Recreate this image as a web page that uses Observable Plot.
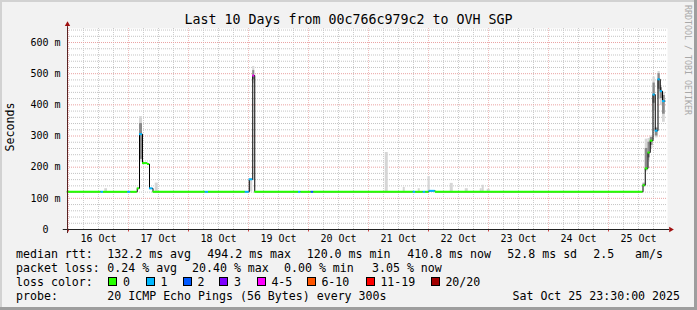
<!DOCTYPE html>
<html>
<head>
<meta charset="utf-8">
<script src="https://cdn.jsdelivr.net/npm/d3@7"></script>
<script src="https://cdn.jsdelivr.net/npm/@observablehq/plot@0.6"></script>
<style>
html, body { margin: 0; padding: 0; background: #f2f2f2; }
#chart { position: relative; width: 697px; height: 310px; background: #f2f2f2; overflow: hidden;
  font-family: "DejaVu Sans Mono", monospace; color: #000; }
.abs { position: absolute; white-space: pre; line-height: 1; }
.sw { position: absolute; width: 9px; height: 9px; box-sizing: border-box; border: 1px solid #000; }
</style>
</head>
<body>
<div id="chart"></div>
<script>
// ---------- texts ----------
const titleText = "Last 10 Days from 00c766c979c2 to OVH SGP";
const yLabelText = "Seconds";
const creditText = "RRDTOOL / TOBI OETIKER";

// ---------- axes (hours since 16 Oct 00:00) ----------
const dayTicks = [12, 36, 60, 84, 108, 132, 156, 180, 204, 228];
const dayLabels = ["16 Oct", "17 Oct", "18 Oct", "19 Oct", "20 Oct", "21 Oct", "22 Oct", "23 Oct", "24 Oct", "25 Oct"];
const midnights = [0, 24, 48, 72, 96, 120, 144, 168, 192, 216];
const yTicks = [0, 100, 200, 300, 400, 500, 600];
const yTickLabels = ["0\u00a0\u00a0", "100 m", "200 m", "300 m", "400 m", "500 m", "600 m"];

// ---------- loss colour buckets ----------
const lossBuckets = ["0", "1", "2", "3", "4-5", "6-10", "11-19", "20/20"];
const lossColors = ["#26ff00", "#00b8ff", "#0059ff", "#7e00ff", "#ff00ff", "#ff5500", "#ff0000", "#a10000"];

// ---------- median rtt (ms), step segments: start hour, value, loss bucket ----------
const medT = [-0.5, 13.0, 14.0, 23.7, 24.9, 27.5, 28.4, 29.6, 31.6, 32.4, 33.8, 54.7, 56.0, 70.7, 72.3, 73.7, 74.5,
  92.0, 93.0, 97.1, 98.1, 137.9, 138.9, 141.9, 142.9, 144.2, 146.7,
  229.8, 230.7, 231.8, 232.7, 233.8, 234.7, 235.8, 236.7, 237.6, 238.7];
const medV = [121, 121, 121, 121, 121, 132, 306, 213, 210, 132, 121, 121, 121, 121, 161, 494, 121,
  121, 121, 121, 121, 121, 121, 121, 121, 124, 121,
  142, 196, 247, 285, 433, 317, 482, 444, 412];
const medLoss = ["0", "1", "0", "1", "0", "0", "1", "0", "0", "1", "0", "1", "0", "1", "1", "4-5", "0",
  "1", "0", "2", "0", "1", "0", "1", "0", "1", "0",
  "0", "0", "0", "0", "1", "1", "1", "1", "1"];

// ---------- smoke (ping spread, ms) ----------
const smokeT0 = [14.5, 28.4, 29.6, 34.7, 72.3, 73.7, 126.7, 133.9, 139.9, 143.8, 152.7, 158.7, 164.7, 165.5, 167.5,
  229.8, 230.7, 231.8, 232.7, 233.8, 234.7, 235.8, 236.7, 237.6];
const smokeT1 = [15.6, 29.6, 30.4, 35.9, 73.7, 74.5, 127.9, 134.7, 140.7, 144.7, 153.9, 159.9, 165.5, 166.3, 168.7,
  230.7, 231.8, 232.7, 233.8, 234.7, 235.8, 236.7, 237.6, 238.7];
const smokeMin = [121, 216, 210, 121, 121, 468, 121, 121, 121, 121, 121, 121, 121, 121, 121,
  135, 185, 221, 260, 380, 294, 420, 398, 344];
const smokeMax = [131, 362, 222, 149, 161, 523, 247, 135, 131, 170, 148, 131, 131, 142, 129,
  150, 290, 292, 300, 489, 328, 507, 462, 440];
const smokeInLo = [121, 225, 210, 121, 121, 480, 121, 121, 121, 121, 121, 121, 121, 121, 121,
  138, 190, 230, 270, 405, 300, 450, 420, 370];
const smokeInHi = [121, 340, 216, 121, 121, 510, 121, 121, 121, 121, 121, 121, 121, 121, 121,
  146, 260, 280, 295, 470, 325, 500, 455, 430];

// ---------- legend texts ----------
const rowLabels = ["median rtt:", "packet loss:", "loss color:", "probe:"];
const rttStats = ["132.2 ms avg", "494.2 ms max", "120.0 ms min", "410.8 ms now", "52.8 ms sd", "2.5", "am/s"];
const lossStats = ["0.24 % avg", "20.40 % max", "0.00 % min", "3.05 % now"];
const probeText = "20 ICMP Echo Pings (56 Bytes) every 300s";
const dateText = "Sat Oct 25 23:30:00 2025";

// ---------- layout (pixels) ----------
const rowTops = [248.7, 263.0, 277.0, 291.1];
const rttX = [107.3, 207.3, 306.7, 407.3, 507.3, 593.3, 635];
const lossX = [107.3, 192, 284, 372];
const swatchX = [108.3, 145.7, 182.7, 219.3, 256.7, 306.7, 365.7, 430.7];

// ---------- build data tables ----------
const segs = medV.map((v, i) => ({t0: medT[i], t1: medT[i + 1], v, loss: medLoss[i]}));
const pts = medT.map((t, i) => ({t, v: medV[Math.min(i, medV.length - 1)]}));
const smoke = smokeT0.map((t, i) => ({t0: t, t1: smokeT1[i], lo: smokeMin[i], hi: smokeMax[i], qlo: smokeInLo[i], qhi: smokeInHi[i]}));
const minorY = d3.range(20, 645, 20).filter(v => v % 100 !== 0);
const majorY = yTicks.filter(v => v > 0);
const minorX = d3.range(6, 240, 6).filter(h => h % 24 !== 0);

const plot = Plot.plot({
  width: 697, height: 245,
  marginLeft: 67, marginRight: 30, marginTop: 28, marginBottom: 16,
  style: {fontFamily: "DejaVu Sans Mono", fontSize: "10px", background: "transparent", color: "#000", overflow: "visible"},
  x: {type: "linear", domain: [-0.4, 239.6], ticks: dayTicks, tickFormat: d => dayLabels[dayTicks.indexOf(d)], tickSize: 0, tickPadding: 5, label: null},
  y: {domain: [0, 645], ticks: yTicks, tickFormat: d => yTickLabels[yTicks.indexOf(d)], tickSize: 0, tickPadding: 7, label: null},
  color: {domain: lossBuckets, range: lossColors},
  marks: [
    Plot.frame({fill: "white", stroke: "none"}),
    Plot.ruleY(minorY, {stroke: "#c4c4c4", strokeDasharray: "1,1"}),
    Plot.ruleX(minorX, {stroke: "#cccccc", strokeDasharray: "1,1"}),
    Plot.ruleY(majorY, {stroke: "#eaa3a3", strokeDasharray: "1,1"}),
    Plot.ruleX(midnights, {stroke: "#f0bcbc", strokeDasharray: "1,1"}),
    Plot.rect(smoke, {x1: "t0", x2: "t1", y1: "lo", y2: "hi", fill: "#d6d6d6"}),
    Plot.rect(smoke.filter(d => d.qhi > d.qlo), {x1: "t0", x2: "t1", y1: "qlo", y2: "qhi", fill: "#8a8a8a"}),
    Plot.line(pts, {x: "t", y: "v", curve: "step-after", stroke: "#000", strokeWidth: 1}),
    Plot.ruleY(segs, {x1: "t0", x2: "t1", y: "v", stroke: "loss", strokeWidth: 2}),
    Plot.ruleX(midnights.map(h => ({h})), {x: "h", y1: 0, y2: -8, stroke: "#d04040"}),
    Plot.ruleY([{y: 0, x1: -2.1, x2: 240.4}], {y: "y", x1: "x1", x2: "x2", stroke: "#222"}),
    Plot.ruleX([{x: -0.4, y1: -13, y2: 651}], {x: "x", y1: "y1", y2: "y2", stroke: "#5a2424"}),
    Plot.dot([{x: -0.4, y: 658}], {x: "x", y: "y", symbol: "triangle", r: 2, fill: "#a01010", stroke: "none"}),
    Plot.dot([{x: 240.9, y: 0}], {x: "x", y: "y", symbol: "triangle", rotate: 90, r: 2, fill: "#a01010", stroke: "none"})
  ]
});

const chart = document.getElementById("chart");
plot.style.position = "absolute";
plot.style.left = "0px";
plot.style.top = "0px";
chart.appendChild(plot);

function addText(text, x, y, size, extra) {
  const d = document.createElement("div");
  d.className = "abs";
  d.textContent = text;
  d.style.left = x + "px";
  d.style.top = y + "px";
  d.style.fontSize = size + "px";
  if (extra) Object.assign(d.style, extra);
  chart.appendChild(d);
  return d;
}

// title
addText(titleText, 0, 12.8, 13.3, {width: "697px", textAlign: "center"});
// y label
addText(yLabelText, 11, 127, 11.6, {transform: "translate(-50%,-50%) rotate(-90deg)"});
// credit
addText(creditText, 684, 5, 8.3, {writingMode: "vertical-rl", color: "#a8a8a8"});

// legend rows
const LF = 11.6;
rowLabels.forEach((t, i) => addText(t, 16, rowTops[i], LF));
rttStats.forEach((t, i) => addText(t, rttX[i], rowTops[0], LF));
lossStats.forEach((t, i) => addText(t, lossX[i], rowTops[1], LF));
lossBuckets.forEach((b, i) => {
  const s = document.createElement("div");
  s.className = "sw";
  s.style.left = swatchX[i] + "px";
  s.style.top = "277px";
  s.style.background = lossColors[i];
  chart.appendChild(s);
  addText(b, swatchX[i] + 14.7, rowTops[2], LF);
});
addText(probeText, 107.3, rowTops[3], LF);
addText(dateText, 0, rowTops[3], LF, {left: "auto", right: "17px"});

// 3D frame
function addBox(l, t, w, h, c) {
  const d = document.createElement("div");
  Object.assign(d.style, {position: "absolute", left: l + "px", top: t + "px", width: w + "px", height: h + "px", background: c});
  chart.appendChild(d);
}
addBox(0, 0, 697, 2, "#d2d2d2");
addBox(0, 0, 2, 310, "#d2d2d2");
addBox(694, 0, 3, 310, "#9e9e9e");
addBox(0, 307, 697, 3, "#9e9e9e");
</script>
</body>
</html>
